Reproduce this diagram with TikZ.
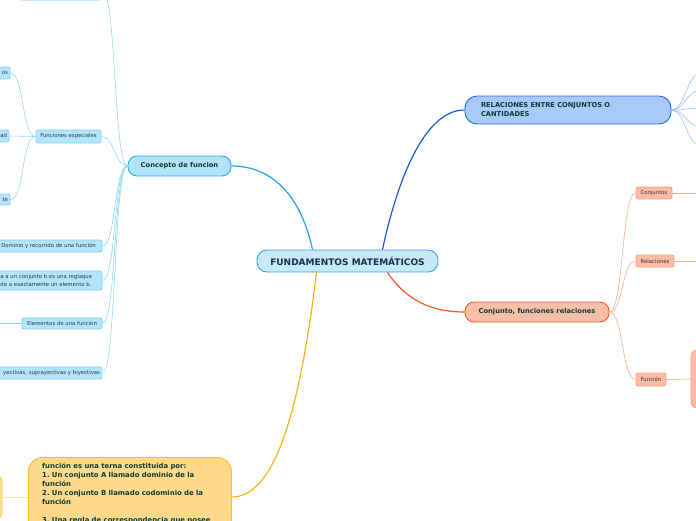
\documentclass[tikz,border=0pt]{standalone}
\usepackage{fontspec}
\setmainfont{DejaVu Sans}
\usetikzlibrary{calc}
\frenchspacing
\definecolor{fundF}{HTML}{C6E9F9}
\definecolor{fundB}{HTML}{3BA0DC}
\definecolor{fundT}{HTML}{17304F}
\definecolor{concF}{HTML}{B0E3F9}
\definecolor{concB}{HTML}{2AA8E6}
\definecolor{mainT}{HTML}{0E3B30}
\definecolor{chF}{HTML}{B3E5FC}
\definecolor{chB}{HTML}{7DD0F5}
\definecolor{chT}{HTML}{333333}
\definecolor{relF}{HTML}{A9C9FB}
\definecolor{relB}{HTML}{1F6FDC}
\definecolor{conF}{HTML}{F9BEA8}
\definecolor{conB}{HTML}{EF5A2B}
\definecolor{saF}{HTML}{FBBCA7}
\definecolor{saB}{HTML}{F7A487}
\definecolor{yeF}{HTML}{FED98C}
\definecolor{yeB}{HTML}{FBBD2C}
\definecolor{lnCyan}{HTML}{1CA6E8}
\definecolor{lnCyanL}{HTML}{8ED8F6}
\definecolor{lnBlue}{HTML}{1A5CCC}
\definecolor{lnBlueL}{HTML}{9FBFF0}
\definecolor{lnOr}{HTML}{F0582A}
\definecolor{lnOrL}{HTML}{F9A98F}
\definecolor{lnYe}{HTML}{F9B31A}
\definecolor{lnYeL}{HTML}{FDE4A8}
\tikzset{
  bigbox/.style={rectangle, inner sep=0pt, line width=0.9pt, font=\bfseries\fontsize{6.7}{8}\selectfont, text=mainT},
  chbox/.style={rectangle, rounded corners=2pt, inner sep=0pt, fill=chF, draw=chB, line width=0.8pt, font=\fontsize{5.35}{6.2}\selectfont, text=chT},
  chtext/.style={inner sep=0pt, font=\fontsize{5.35}{8}\selectfont, text=chT, align=left},
  sabox/.style={rectangle, rounded corners=2pt, inner sep=0pt, fill=saF, draw=saB, line width=0.8pt, font=\fontsize{5.35}{6.2}\selectfont, text=chT},
  mainln/.style={line width=1.2pt},
  subln/.style={line width=0.6pt},
}
\begin{document}
\begin{tikzpicture}[x=1pt,y=-1pt]
\useasboundingbox (0,0) rectangle (696,520);
\clip (0,0) rectangle (696,520);

% main nodes
\node[bigbox, fill=fundF, draw=fundB, rounded corners=10pt, minimum width=181pt, minimum height=22pt, text=fundT, font=\bfseries\fontsize{9}{10}\selectfont] (fund) at (347.5,261) {FUNDAMENTOS MATEMÁTICOS};
\node[bigbox, fill=concF, draw=concB, rounded corners=9pt, minimum width=103pt, minimum height=20pt] (conc) at (179.5,166) {Concepto de funcion};
\node[bigbox, fill=relF, draw=relB, rounded corners=12pt, minimum width=206pt, minimum height=28pt, text width=174pt, align=left, font=\bfseries\fontsize{6.7}{9}\selectfont] (rel) at (568,110) {RELACIONES ENTRE CONJUNTOS O\\CANTIDADES};
\node[bigbox, fill=conF, draw=conB, rounded corners=9pt, minimum width=144pt, minimum height=20pt] (conj) at (537,312) {Conjunto, funciones relaciones};
\node[bigbox, fill=yeF, draw=yeB, rounded corners=14pt, anchor=north west, minimum width=203pt, minimum height=110pt] (yel) at (28,457) {};
\node[inner sep=0pt, anchor=north west, text width=185pt, align=left, text=mainT, font=\bfseries\fontsize{6.9}{9}\selectfont] (yeltext) at (42,462.3) {función es una terna constituida por:\\1. Un conjunto A llamado dominio de la\\función\\2. Un conjunto B llamado codominio de la\\función\\\mbox{}\\3. Una regla de correspondencia que posee};
\node[rectangle, rounded corners=5pt, fill=yeF, draw=yeB!70, line width=0.8pt, minimum width=44pt, minimum height=43pt] (yelc) at (-20,497) {};

% children of Concepto
\node[chbox, minimum width=82pt, minimum height=16pt] (c0) at (61,-8) {};
\node[chbox, minimum width=65pt, minimum height=13pt] (fe) at (68.5,136.5) {Funciones especiales};
\node[chbox, minimum width=107pt, minimum height=12pt] (dom) at (48.5,246) {Dominio y recorrido de una función};
\node[chbox, minimum width=132pt, minimum height=19pt] (def) at (36,280.5) {};
\node[chtext, anchor=west] (deftext) at (0.3,280.8) {a a un conjunto b es una reglaque\\de a exactamente un elemento b.};
\node[chbox, minimum width=80pt, minimum height=11pt] (elem) at (62,323.5) {Elementos de una funcion};
\node[chbox, minimum width=122pt, minimum height=12pt, text width=118pt, align=right] (tipos) at (41,373) {yectivas, suprayectivas y biyectivas};
\coordinate (elemL) at (0,323.5);

% children of Funciones especiales
\node[chbox, minimum width=40pt, minimum height=12pt, text width=36pt, align=right] (f1) at (-10,73) {os};
\node[chbox, minimum width=40pt, minimum height=12pt, text width=36pt, align=right] (f2) at (-11,136) {ad};
\node[chbox, minimum width=40pt, minimum height=11pt, text width=36pt, align=right] (f3) at (-10,199.5) {te};

% children of Conjunto
\node[sabox, minimum width=36pt, minimum height=12pt] (s1) at (654,193) {Conjuntos};
\node[sabox, minimum width=38pt, minimum height=12pt] (s2) at (655,261) {Relaciones};
\node[sabox, minimum width=30pt, minimum height=13pt] (s3) at (651,379.5) {Función};
\node[rectangle, rounded corners=6pt, fill=saF, draw=saB, line width=0.8pt, minimum width=50pt, minimum height=58pt] (s3c) at (716,379) {};
\coordinate (s1R) at (700,193);
\coordinate (s2R) at (700,261);

% children of RELACIONES (off page)
\foreach \i/\yy in {1/73,2/90,3/108,4/127,5/146} {\coordinate (r\i) at (702,\yy);}

% main connectors
\draw[mainln, lnCyan] ([xshift=-35pt]fund.north) .. controls ++(-12,-55) and ($(conc.east)+(40,0)$) .. (conc.east);
\draw[mainln, lnBlue] ([xshift=35pt]fund.north) .. controls ++(15,-70) and ($(rel.west)+(-40,0)$) .. (rel.west);
\draw[mainln, lnOr] ([xshift=40pt]fund.south) .. controls ++(20,30) and ($(conj.west)+(-30,0)$) .. (conj.west);
\draw[mainln, lnYe] ([xshift=-31pt]fund.south) .. controls ++(-18,150) and ($(yel.east |- yelc)+(40,0)$) .. (yel.east |- yelc);

% concepto sub connectors
\foreach \n in {c0,fe,dom,def,elem,tipos} {
  \draw[subln, lnCyanL] (conc.west) .. controls ++(-14,0) and ($(\n.east)+(14,0)$) .. (\n.east);
}
\draw[subln, lnCyanL] (elem.west) -- (elemL);
\foreach \n in {f1,f2,f3} {
  \draw[subln, lnCyanL] (fe.west) .. controls ++(-14,0) and ($(\n.east)+(14,0)$) .. (\n.east);
}
% conjunto sub connectors
\foreach \n in {s1,s2,s3} {
  \draw[subln, lnOrL] (conj.east) .. controls ++(14,0) and ($(\n.west)+(-14,0)$) .. (\n.west);
}
\draw[subln, lnOrL] (s1.east) -- (s1R);
\draw[subln, lnOrL] (s2.east) -- (s2R);
\draw[subln, lnOrL] (s3.east) -- (s3c.west);
% relaciones sub connectors
\foreach \i in {1,...,5} {
  \draw[subln, lnBlueL] (rel.east) .. controls ++(14,0) and ($(r\i)+(-16,0)$) .. (r\i);
}
% yellow sub connector
\draw[line width=1pt, lnYeL] (yel.west |- yelc) -- (yelc.east);
\end{tikzpicture}
\end{document}
